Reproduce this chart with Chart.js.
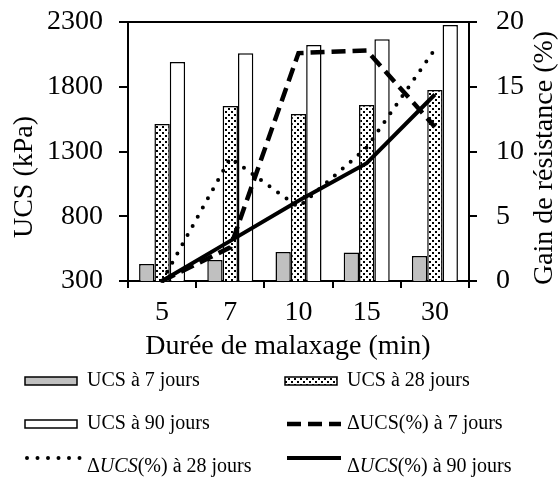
<!DOCTYPE html>
<html>
<head>
<meta charset="utf-8">
<script src="https://cdn.jsdelivr.net/npm/chart.js@4.4.0/dist/chart.umd.min.js"></script>
<style>
    html, body { margin: 0; padding: 0; background: #fff; }
    #wrap { width: 558px; height: 486px; }
</style>
</head>
<body>
<div id="wrap"><canvas id="ucsChart" width="558" height="486"></canvas></div>
<script>
const durations = ['5', '7', '10', '15', '30'];
const ucs7 = [431, 462, 524, 521, 493];
const ucs28 = [1512, 1651, 1589, 1659, 1775];
const ucs90 = [1991, 2058, 2122, 2167, 2276];
const gain7 = [0, 2.6, 17.6, 17.8, 11.9];
const gain28 = [0, 9.5, 5.7, 10.3, 17.9];
const gain90 = [0, 3.1, 6.2, 9.1, 14.4];
const barLabels = ['UCS à 7 jours', 'UCS à 28 jours', 'UCS à 90 jours'];
const lineLabels = ['ΔUCS(%) à 7 jours', 'ΔUCS(%) à 28 jours', 'ΔUCS(%) à 90 jours'];
const lineItalic = [false, true, true];
const ucsTicks = [300, 800, 1300, 1800, 2300];
const gainTicks = [0, 5, 10, 15, 20];
const xTitle = 'Durée de malaxage (min)';
const yTitle = 'UCS (kPa)';
const y2Title = 'Gain de résistance (%)';

const SERIF = '"Liberation Serif", "Times New Roman", serif';

function makeDotPattern() {
    const c = document.createElement('canvas');
    c.width = 6; c.height = 6;
    const g = c.getContext('2d');
    g.fillStyle = '#fff';
    g.fillRect(0, 0, 6, 6);
    g.fillStyle = '#000';
    g.fillRect(0, 0, 2, 2);
    g.fillRect(3, 3, 2, 2);
    return g.createPattern(c, 'repeat');
}

const dotPattern = makeDotPattern();

// no extra label overhang padding, so the plot area keeps its place
function fixVertical(width) {
    return (s) => {
        s.width = width;
        s.paddingTop = 0;
        s.paddingBottom = 0;
    };
}

// titles, frame and legend drawn by hand (right title reads bottom-up)
const decorPlugin = {
    id: 'decor',
    afterDraw(chart) {
        const ctx = chart.ctx;
        const a = chart.chartArea;
        ctx.save();

        ctx.strokeStyle = '#000';
        ctx.lineWidth = 2;
        ctx.beginPath();
        ctx.moveTo(a.left - 9, a.top);
        ctx.lineTo(a.right + 8, a.top);
        ctx.stroke();

        ctx.fillStyle = '#000';
        ctx.font = '28px ' + SERIF;
        ctx.textAlign = 'center';
        ctx.textBaseline = 'middle';
        ctx.fillText(xTitle, 288, 347);

        ctx.save();
        ctx.translate(25, 177);
        ctx.rotate(-Math.PI / 2);
        ctx.fillText(yTitle, 0, 0);
        ctx.restore();

        ctx.save();
        ctx.translate(545, 158);
        ctx.rotate(-Math.PI / 2);
        ctx.fillText(y2Title, 0, 0);
        ctx.restore();

        // legend
        const cols = [25, 285];
        const rows = [381, 424, 467];
        ctx.textAlign = 'left';
        chart.data.datasets.forEach((ds, i) => {
            const x = cols[i % 2];
            const y = rows[Math.floor(i / 2)];
            const textX = x + 62;
            if (ds.type === 'bar') {
                ctx.fillStyle = ds.backgroundColor;
                ctx.fillRect(x, y - 4, 52, 8);
                ctx.strokeStyle = '#000';
                ctx.lineWidth = 1.5;
                ctx.strokeRect(x, y - 4, 52, 8);
            } else {
                const ly = ds.legendLift ? y - 9 : y;
                ctx.beginPath();
                ctx.strokeStyle = '#000';
                ctx.lineWidth = ds.borderWidth;
                ctx.lineCap = ds.borderCapStyle || 'butt';
                ctx.setLineDash(ds.borderDash || []);
                ctx.moveTo(x + 2, ly);
                ctx.lineTo(x + 56, ly);
                ctx.stroke();
                ctx.setLineDash([]);
                ctx.lineCap = 'butt';
            }
            ctx.fillStyle = '#000';
            ctx.textBaseline = 'middle';
            if (ds.italicUCS) {
                const rest = ds.label.slice(4);
                let tx = textX;
                ctx.font = '20px ' + SERIF;
                ctx.fillText('Δ', tx, y);
                tx += ctx.measureText('Δ').width;
                ctx.font = 'italic 20px ' + SERIF;
                ctx.fillText('UCS', tx, y);
                tx += ctx.measureText('UCS').width;
                ctx.font = '20px ' + SERIF;
                ctx.fillText(rest, tx, y);
            } else {
                ctx.font = '20px ' + SERIF;
                ctx.fillText(ds.label, textX, y);
            }
        });
        ctx.restore();
    }
};

const barBase = {
    type: 'bar',
    yAxisID: 'y',
    borderColor: '#000',
    borderWidth: 1.5,
    categoryPercentage: 0.675,
    barPercentage: 1,
    order: 2
};

const lineBase = {
    type: 'line',
    yAxisID: 'y2',
    borderColor: '#000',
    backgroundColor: '#000',
    pointRadius: 0,
    fill: false,
    tension: 0,
    clip: false,
    order: 1
};

new Chart(document.getElementById('ucsChart'), {
    data: {
        labels: durations,
        datasets: [
            { ...barBase, label: barLabels[0], data: ucs7, backgroundColor: '#c0c0c0' },
            { ...barBase, label: barLabels[1], data: ucs28, backgroundColor: dotPattern },
            { ...barBase, label: barLabels[2], data: ucs90, backgroundColor: '#ffffff' },
            { ...lineBase, label: lineLabels[0], data: gain7, borderWidth: 4.5, borderDash: [14, 7], italicUCS: lineItalic[0] },
            { ...lineBase, label: lineLabels[1], data: gain28, borderWidth: 4, borderDash: [0, 10.5], borderCapStyle: 'round', italicUCS: lineItalic[1], legendLift: true },
            { ...lineBase, label: lineLabels[2], data: gain90, borderWidth: 4, italicUCS: lineItalic[2], legendLift: true }
        ]
    },
    options: {
        responsive: false,
        devicePixelRatio: 1,
        animation: false,
        layout: { padding: { top: 22, left: 0, right: 0, bottom: 165 } },
        plugins: {
            legend: { display: false },
            tooltip: { enabled: false }
        },
        scales: {
            x: {
                offset: true,
                afterFit: (s) => { s.height = 40; },
                grid: { drawOnChartArea: false, offset: true, tickLength: 7, color: '#000', lineWidth: 2 },
                border: { color: '#000', width: 2 },
                ticks: { color: '#000', padding: 8, font: { family: SERIF, size: 28 } }
            },
            y: {
                position: 'left',
                min: ucsTicks[0],
                max: ucsTicks[ucsTicks.length - 1],
                afterFit: fixVertical(128),
                afterBuildTicks: (s) => { s.ticks = ucsTicks.map(v => ({ value: v })); },
                grid: { drawOnChartArea: false, tickLength: 9, color: '#000', lineWidth: 2 },
                border: { color: '#000', width: 2 },
                ticks: { color: '#000', padding: 16, font: { family: SERIF, size: 28 }, callback: (v) => String(v) }
            },
            y2: {
                position: 'right',
                min: gainTicks[0],
                max: gainTicks[gainTicks.length - 1],
                afterFit: fixVertical(89),
                afterBuildTicks: (s) => { s.ticks = gainTicks.map(v => ({ value: v })); },
                grid: { drawOnChartArea: false, tickLength: 8, color: '#000', lineWidth: 2 },
                border: { color: '#000', width: 2 },
                ticks: { color: '#000', padding: 19, font: { family: SERIF, size: 28 }, callback: (v) => String(v) }
            }
        }
    },
    plugins: [decorPlugin]
});
</script>
</body>
</html>
